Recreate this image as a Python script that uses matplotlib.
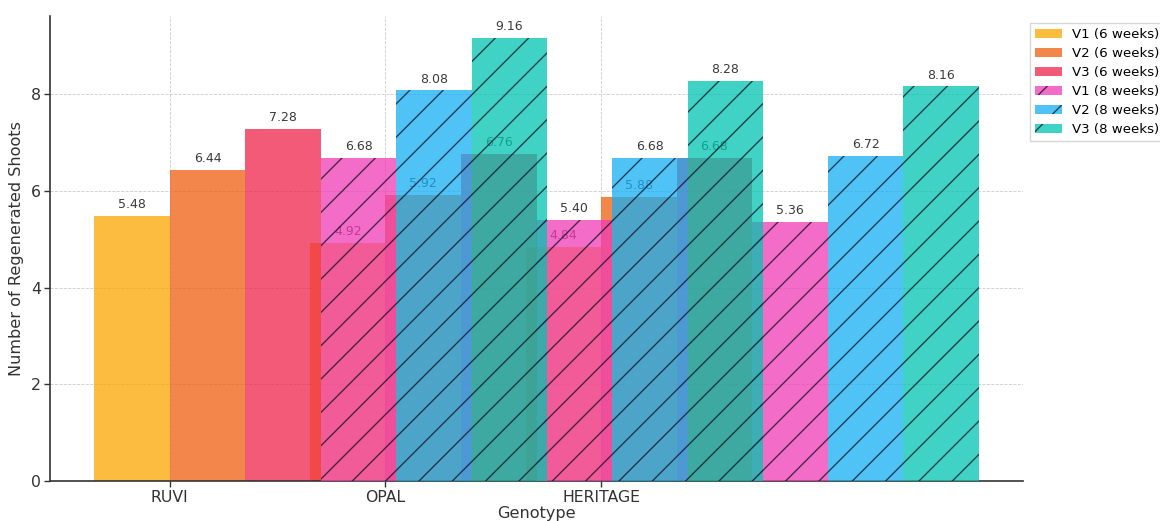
import numpy as np
import matplotlib.pyplot as plt

plt.rcParams['font.family'] = 'DejaVu Sans'
plt.rcParams['hatch.linewidth'] = 0.5
plt.rcParams['hatch.color'] = '#111122'

genotypes = ['RUVI', 'OPAL', 'HERITAGE']

# shoots after 6 weeks
v1_6 = [5.48, 4.92, 4.84]
v2_6 = [6.44, 5.92, 5.88]
v3_6 = [7.28, 6.76, 6.68]

# shoots after 8 weeks
v1_8 = [6.68, 5.40, 5.36]
v2_8 = [8.08, 6.68, 6.72]
v3_8 = [9.16, 8.28, 8.16]

series = [
  ('V1 (6 weeks)', v1_6, '#FAA600', ''),
  ('V2 (6 weeks)', v2_6, '#EF5F0F', ''),
  ('V3 (6 weeks)', v3_6, '#F0234B', ''),
  ('V1 (8 weeks)', v1_8, '#EE3BB6', '//'),
  ('V2 (8 weeks)', v2_8, '#16AFF4', '//'),
  ('V3 (8 weeks)', v3_8, '#00C4B0', '//'),
]

x = np.arange(len(genotypes))
width = 0.35

fig = plt.figure(figsize=(5.8, 2.605), dpi=200)
ax = fig.add_axes([0.0431, 0.0768, 0.8388, 0.8925])
ax.set_axisbelow(True)

for i, (name, vals, col, hatch) in enumerate(series):
  pos = x - width / 2 + i * width
  z = 4 if hatch else 2
  bars = ax.bar(pos, vals, width, color=col, alpha=0.75, hatch=hatch,
                edgecolor='#111122' if hatch else col, linewidth=0,
                label=name, zorder=z)
  for b, v in zip(bars, vals):
    ax.text(b.get_x() + b.get_width() / 2, v + 0.1, '%.2f' % v,
            ha='center', va='bottom', fontsize=4.5, color='#3a3a3a',
            zorder=z + 1 if hatch else 3)

ax.set_xticks(x)
ax.set_xticklabels(genotypes, fontsize=5.7, color='#333333')
ax.tick_params(axis='y', labelsize=5.7, labelcolor='#333333')
ax.tick_params(length=2, width=0.5, pad=1.2, color='#333333')
ax.set_xlabel('Genotype', fontsize=5.8, color='#333333', labelpad=0.5)
ax.set_ylabel('Number of Regenerated Shoots', fontsize=5.8, color='#333333', labelpad=2.5)

ax.grid(True, linestyle='--', linewidth=0.3, color='#cccccc')
for s in ['top', 'right']:
  ax.spines[s].set_visible(False)
for s in ['left', 'bottom']:
  ax.spines[s].set_linewidth(0.6)
  ax.spines[s].set_color('#333333')

leg = ax.legend(loc='upper left', bbox_to_anchor=(1.0, 1.0), fontsize=4.8,
                frameon=True, fancybox=False, edgecolor='#cccccc',
                handlelength=2.0, labelspacing=0.45, handletextpad=0.8)
leg.get_frame().set_linewidth(0.5)

fig.savefig('out.png', dpi=200)
